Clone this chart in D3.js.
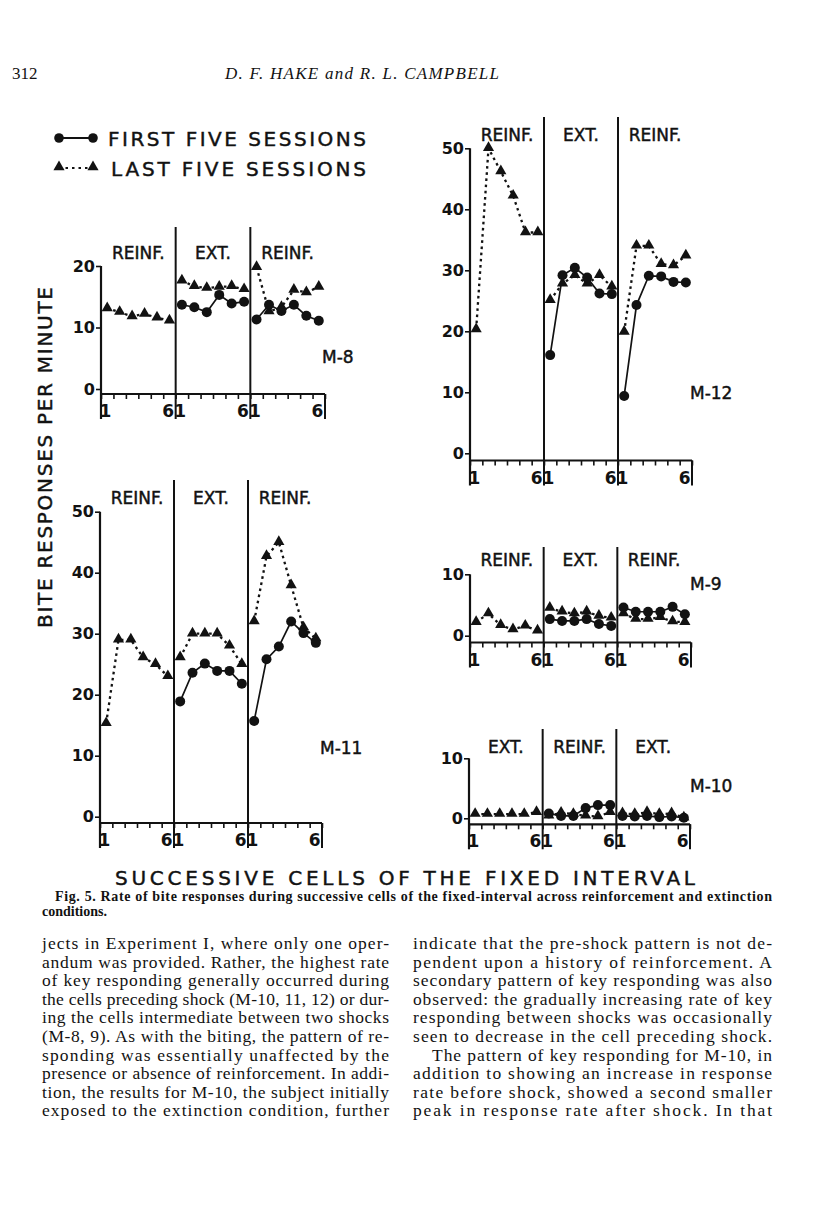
<!DOCTYPE html>
<html><head><meta charset="utf-8">
<script src="https://cdn.jsdelivr.net/npm/d3@7"></script>
<style>body{margin:0;background:#fff}svg{display:block}</style>
</head><body>
<script>
// ---------------- DATA ----------------
const cellLabels = ["1", "6"];
const legendLabels = ["FIRST FIVE SESSIONS", "LAST FIVE SESSIONS"];
const yAxisTitle = "BITE RESPONSES PER MINUTE";
const xAxisTitle = "SUCCESSIVE CELLS OF THE FIXED INTERVAL";

const m8Conditions = ["REINF.", "EXT.", "REINF."];
const m8YTicks = [0, 10, 20];
const m8First = [null, null, null, null, null, null, 13.7, 13.3, 12.5, 15.3, 13.9, 14.2, 11.3, 13.7, 12.7, 13.7, 11.9, 11.1];
const m8Last  = [13.1, 12.5, 11.8, 12.2, 11.6, 11.1, 17.6, 16.7, 16.4, 16.6, 16.7, 16.2, 19.8, 12.6, 13.3, 16.1, 15.7, 16.6];

const m12Conditions = ["REINF.", "EXT.", "REINF."];
const m12YTicks = [0, 10, 20, 30, 40, 50];
const m12First = [null, null, null, null, null, null, 16.1, 29.2, 30.4, 28.8, 26.2, 26.1, 9.4, 24.3, 29.1, 29.0, 28.1, 28.0];
const m12Last  = [20.3, 50.0, 46.2, 42.2, 36.2, 36.2, 25.1, 27.8, 29.2, 27.8, 29.2, 27.3, 19.9, 34.0, 34.0, 31.0, 30.8, 32.4];

const m11Conditions = ["REINF.", "EXT.", "REINF."];
const m11YTicks = [0, 10, 20, 30, 40, 50];
const m11First = [null, null, null, null, null, null, 18.9, 23.6, 25.1, 23.9, 23.9, 21.8, 15.7, 25.8, 27.9, 32.0, 30.1, 28.5];
const m11Last  = [15.3, 29.0, 29.0, 26.1, 25.0, 23.0, 26.1, 30.0, 30.0, 30.0, 28.0, 25.0, 32.0, 42.7, 45.0, 37.9, 31.0, 29.2];

const m9Conditions = ["REINF.", "EXT.", "REINF."];
const m9YTicks = [0, 10];
const m9First = [null, null, null, null, null, null, 2.7, 2.4, 2.4, 2.7, 1.9, 1.6, 4.6, 3.9, 3.9, 3.9, 4.7, 3.5];
const m9Last  = [2.2, 3.6, 1.7, 1.0, 1.6, 0.8, 4.5, 3.9, 3.6, 3.9, 3.2, 2.9, 3.6, 2.7, 2.7, 3.0, 2.3, 2.2];

const m10Conditions = ["EXT.", "REINF.", "EXT."];
const m10YTicks = [0, 10];
const m10First = [null, null, null, null, null, null, 0.8, 0.4, 0.4, 1.7, 2.2, 2.2, 0.4, 0.3, 0.4, 0.2, 0.3, 0.1];
const m10Last  = [0.7, 0.7, 0.7, 0.7, 0.7, 1.0, 0.4, 0.9, 0.7, 0.4, 0.3, 1.0, 0.8, 0.7, 1.0, 0.7, 0.8, 0.1];

const pageNumber = "312";
const runningHead = "D. F. HAKE and R. L. CAMPBELL";
const captionLines = [
  "Fig. 5. Rate of bite responses during successive cells of the fixed-interval across reinforcement and extinction",
  "conditions."
];
const bodyLeft = [
  "jects in Experiment I, where only one oper-",
  "andum was provided. Rather, the highest rate",
  "of key responding generally occurred during",
  "the cells preceding shock (M-10, 11, 12) or dur-",
  "ing the cells intermediate between two shocks",
  "(M-8, 9). As with the biting, the pattern of re-",
  "sponding was essentially unaffected by the",
  "presence or absence of reinforcement. In addi-",
  "tion, the results for M-10, the subject initially",
  "exposed to the extinction condition, further"
];
const bodyRight = [
  "indicate that the pre-shock pattern is not de-",
  "pendent upon a history of reinforcement. A",
  "secondary pattern of key responding was also",
  "observed: the gradually increasing rate of key",
  "responding between shocks was occasionally",
  "seen to decrease in the cell preceding shock.",
  "The pattern of key responding for M-10, in",
  "addition to showing an increase in response",
  "rate before shock, showed a second smaller",
  "peak in response rate after shock. In that"
];

// ---------------- LAYOUT ----------------
const ink = "#121212";
const sans = "'DejaVu Sans', sans-serif";
const serif = "'Liberation Serif', 'DejaVu Serif', serif";

const svg = d3.select("body").append("svg")
  .attr("width", 816).attr("height", 1207)
  .style("background", "#fff");

const panels = [
  {name: "M-8",  cond: m8Conditions,  first: m8First,  last: m8Last,  ticks: m8YTicks,  yMax: 20,
   x: 101, w: 224, y0: 389,   y1: 266,   base: 394,   top: 227, condY: 259, nameX: 322, nameY: 363},
  {name: "M-12", cond: m12Conditions, first: m12First, last: m12Last, ticks: m12YTicks, yMax: 50,
   x: 470, w: 222, y0: 453.3, y1: 148.3, base: 460.5, top: 117, condY: 141, nameX: 690, nameY: 399},
  {name: "M-11", cond: m11Conditions, first: m11First, last: m11Last, ticks: m11YTicks, yMax: 50,
   x: 100, w: 222, y0: 816.7, y1: 511.7, base: 823,   top: 480, condY: 504, nameX: 320, nameY: 754},
  {name: "M-9",  cond: m9Conditions,  first: m9First,  last: m9Last,  ticks: m9YTicks,  yMax: 10,
   x: 470, w: 221, y0: 635.7, y1: 574.3, base: 642.5, top: 547, condY: 566, nameX: 690, nameY: 590},
  {name: "M-10", cond: m10Conditions, first: m10First, last: m10Last, ticks: m10YTicks, yMax: 10,
   x: 469, w: 221, y0: 818.3, y1: 758.3, base: 824.3, top: 729, condY: 753, nameX: 690, nameY: 792}
];

const triSym = d3.symbol().type(d3.symbolTriangle).size(54);
const dash = "2.6,3.6";

function heavy(sel) { return sel.attr("stroke", ink).attr("stroke-width", 0.45); }

panels.forEach(p => {
  const g = svg.append("g");
  const ys = d3.scaleLinear().domain([0, p.yMax]).range([p.y0, p.y1]);
  const xs = d3.scaleLinear().domain([0, 18]).range([p.x, p.x + p.w]);
  const below = p.base + 25;

  const ya = g.append("g").attr("transform", `translate(${p.x},0)`)
    .call(d3.axisLeft(ys).tickValues(p.ticks).tickSize(5).tickPadding(1).tickFormat(d3.format("d")));
  ya.select(".domain").remove();
  ya.selectAll("line").attr("stroke", ink).attr("stroke-width", 1.6);
  ya.selectAll("text").attr("fill", ink).style("font-family", sans)
    .style("font-size", "16px").style("font-weight", "bold");
  g.append("line").attr("x1", p.x).attr("x2", p.x).attr("y1", ys(p.yMax)).attr("y2", below)
    .attr("stroke", ink).attr("stroke-width", 2.2);

  const xa = g.append("g").attr("transform", `translate(0,${p.base})`)
    .call(d3.axisBottom(xs).tickValues(d3.range(0, 19)).tickSize(5).tickFormat(""));
  xa.select(".domain").remove();
  xa.selectAll("line").attr("stroke", ink).attr("stroke-width", 1.6);
  g.append("line").attr("x1", xs(0)).attr("x2", xs(18)).attr("y1", p.base).attr("y2", p.base)
    .attr("stroke", ink).attr("stroke-width", 2.2);
  g.append("line").attr("x1", xs(18)).attr("x2", xs(18)).attr("y1", p.base).attr("y2", below)
    .attr("stroke", ink).attr("stroke-width", 2);
  [6, 12].forEach(v => g.append("line").attr("x1", xs(v)).attr("x2", xs(v))
    .attr("y1", p.top).attr("y2", below).attr("stroke", ink).attr("stroke-width", 2));

  [0, 1, 2].forEach(s => {
    g.append("text").attr("x", xs(s * 6 + 0.36)).attr("y", p.base + 23).attr("text-anchor", "middle")
      .attr("fill", ink).style("font-family", sans).style("font-size", "17px").style("font-weight", "bold")
      .text(cellLabels[0]);
    g.append("text").attr("x", xs(s * 6 + 5.4)).attr("y", p.base + 23).attr("text-anchor", "middle")
      .attr("fill", ink).style("font-family", sans).style("font-size", "17px").style("font-weight", "bold")
      .text(cellLabels[1]);
    heavy(g.append("text").attr("x", xs(s * 6 + 3)).attr("y", p.condY).attr("text-anchor", "middle")
      .attr("fill", ink).style("font-family", sans).style("font-size", "17px")
      .text(p.cond[s]));
  });

  heavy(g.append("text").attr("x", p.nameX).attr("y", p.nameY).attr("fill", ink)
    .style("font-family", sans).style("font-size", "17px").text(p.name));

  const line = d3.line().defined(d => d.v != null).x(d => xs(d.i + 0.5)).y(d => ys(d.v));
  [0, 1, 2].forEach(s => {
    const lastSeg = p.last.slice(s * 6, s * 6 + 6).map((v, k) => ({i: s * 6 + k, v}));
    const firstSeg = p.first.slice(s * 6, s * 6 + 6).map((v, k) => ({i: s * 6 + k, v}));
    g.append("path").attr("d", line(lastSeg)).attr("fill", "none").attr("stroke", ink)
      .attr("stroke-width", 2.3).attr("stroke-dasharray", dash);
    if (firstSeg.some(d => d.v != null))
      g.append("path").attr("d", line(firstSeg)).attr("fill", "none").attr("stroke", ink)
        .attr("stroke-width", 1.7);
  });
  g.selectAll(null).data(p.last.map((v, i) => ({i, v})).filter(d => d.v != null)).enter()
    .append("path").attr("d", triSym)
    .attr("transform", d => `translate(${xs(d.i + 0.5)},${ys(d.v) - 0.5})`).attr("fill", ink);
  g.selectAll(null).data(p.first.map((v, i) => ({i, v})).filter(d => d.v != null)).enter()
    .append("circle").attr("cx", d => xs(d.i + 0.5)).attr("cy", d => ys(d.v)).attr("r", 5).attr("fill", ink);
});

// legend
const lg = svg.append("g");
lg.append("line").attr("x1", 59).attr("x2", 93).attr("y1", 138).attr("y2", 138).attr("stroke", ink).attr("stroke-width", 1.8);
[59, 93].forEach(x => lg.append("circle").attr("cx", x).attr("cy", 138).attr("r", 4.8).attr("fill", ink));
lg.append("line").attr("x1", 59).attr("x2", 93).attr("y1", 168).attr("y2", 168).attr("stroke", ink)
  .attr("stroke-width", 2.2).attr("stroke-dasharray", "2.5,4");
[59, 93].forEach(x => lg.append("path").attr("d", triSym).attr("transform", `translate(${x},167)`).attr("fill", ink));
heavy(lg.append("text").attr("x", 108).attr("y", 146).attr("textLength", 258).attr("lengthAdjust", "spacing")
  .attr("fill", ink).style("font-family", sans).style("font-size", "20px").text(legendLabels[0]));
heavy(lg.append("text").attr("x", 111).attr("y", 176).attr("textLength", 255).attr("lengthAdjust", "spacing")
  .attr("fill", ink).style("font-family", sans).style("font-size", "20px").text(legendLabels[1]));

// axis titles
heavy(svg.append("text").attr("transform", "translate(52,457.5) rotate(-90)").attr("text-anchor", "middle")
  .attr("textLength", 341).attr("lengthAdjust", "spacing")
  .attr("fill", ink).style("font-family", sans).style("font-size", "20px").text(yAxisTitle));
heavy(svg.append("text").attr("x", 115).attr("y", 885).attr("textLength", 580).attr("lengthAdjust", "spacing")
  .attr("fill", ink).style("font-family", sans).style("font-size", "20px").text(xAxisTitle));

// header
svg.append("text").attr("x", 12).attr("y", 79).attr("fill", ink)
  .style("font-family", serif).style("font-size", "17px").text(pageNumber);
svg.append("text").attr("x", 225).attr("y", 79).attr("textLength", 274).attr("lengthAdjust", "spacing")
  .attr("fill", ink).style("font-family", serif).style("font-size", "17px").style("font-style", "italic")
  .text(runningHead);

// caption
svg.append("text").attr("x", 55).attr("y", 901).attr("textLength", 717).attr("lengthAdjust", "spacing")
  .attr("fill", ink).style("font-family", serif).style("font-size", "14px").style("font-weight", "bold")
  .text(captionLines[0]);
svg.append("text").attr("x", 42).attr("y", 916)
  .attr("fill", ink).style("font-family", serif).style("font-size", "14px").style("font-weight", "bold")
  .text(captionLines[1]);

// body columns
function column(lines, x0, w, indents) {
  lines.forEach((t, i) => {
    const ind = indents.includes(i) ? 19 : 0;
    svg.append("text").attr("x", x0 + ind).attr("y", 949 + i * 18.6)
      .attr("fill", ink).style("font-family", serif).style("font-size", "17.5px")
      .attr("textLength", w - ind).attr("lengthAdjust", "spacing").text(t);
  });
}
column(bodyLeft, 42, 347, []);
column(bodyRight, 413, 359, [6]);
</script>
</body></html>
